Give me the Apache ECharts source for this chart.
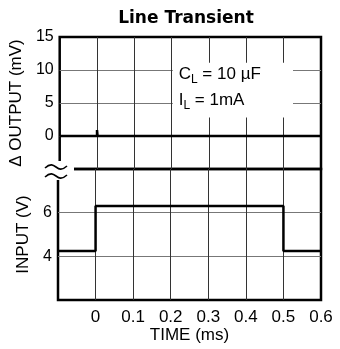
<!DOCTYPE html>
<html><head><meta charset="utf-8">
<script src="https://cdn.jsdelivr.net/npm/echarts@6/dist/echarts.min.js"></script>
<style>html,body{margin:0;padding:0;background:#fff}#c{width:340px;height:349px}</style>
</head><body><div id="c"></div>
<script>
// ---- data ----
const titleText = 'Line Transient';
const timeTicks = [0, 0.1, 0.2, 0.3, 0.4, 0.5, 0.6];
const outputTicks = [0, 5, 10, 15];
const inputTicks = [4, 6];
const outputTime = [-0.1, 0, 0, 0.0015, 0.0015, 0.6];
const outputMv = [0, 0, 0.9, 0.9, 0, 0];
const inputTime = [-0.1, 0, 0, 0.5, 0.5, 0.6];
const inputV = [4.25, 4.25, 6.3, 6.3, 4.25, 4.25];
const noteLines = ['{m|C}{s|L}{m| = 10 µF}', '{m|I}{s|L}{m| = 1mA}'];

const FONT = '"Liberation Sans", Arial, Helvetica, sans-serif';
const pick = (ticks) => (v) => {
  const k = ticks.findIndex(t => Math.abs(t - v) < 1e-9);
  return k < 0 ? '' : String(ticks[k]);
};
const zip = (xs, ys) => xs.map((x, i) => [x, ys[i]]);

const chart = echarts.init(document.getElementById('c'), null, {renderer: 'canvas'});
const splitX = {show: true, showMinLine: false, showMaxLine: false, lineStyle: {color: '#333', width: 1}};
const splitY = {show: true, showMinLine: false, showMaxLine: false, lineStyle: {color: '#777', width: 1}};
const border = {show: true, borderColor: '#000', borderWidth: 2.5, backgroundColor: 'transparent'};

chart.setOption({
  animation: false,
  backgroundColor: '#fff',
  title: {
    text: titleText, left: 181, top: 5, textAlign: 'center', textVerticalAlign: 'top',
    textStyle: {fontFamily: '"DejaVu Sans", sans-serif', fontWeight: 'bold', fontSize: 17, color: '#000'}
  },
  grid: [
    Object.assign({left: 58, right: 19, top: 37, height: 132}, border),
    Object.assign({left: 58, right: 19, top: 169, height: 131}, border)
  ],
  xAxis: [
    {type: 'value', gridIndex: 0, min: -0.1, max: 0.6, interval: 0.1,
     axisLine: {show: false}, axisTick: {show: false}, axisLabel: {show: false}, splitLine: splitX},
    {type: 'value', gridIndex: 1, min: -0.1, max: 0.6, interval: 0.1,
     axisLine: {show: false}, axisTick: {show: false},
     axisLabel: {formatter: pick(timeTicks), margin: 9, fontSize: 17, color: '#000', fontFamily: FONT, showMinLabel: true, showMaxLabel: true},
     splitLine: splitX,
     name: 'TIME (ms)', nameLocation: 'middle', nameGap: 26,
     nameTextStyle: {fontSize: 17, color: '#000', fontFamily: FONT}}
  ],
  yAxis: [
    {type: 'value', gridIndex: 0, min: -5, max: 15, interval: 5,
     axisLine: {show: false}, axisTick: {show: false},
     axisLabel: {formatter: pick(outputTicks), margin: 6, fontSize: 16, color: '#000', fontFamily: FONT, showMaxLabel: true},
     splitLine: splitY,
     name: 'Δ OUTPUT (mV)', nameLocation: 'middle', nameGap: 25,
     nameTextStyle: {fontSize: 17, color: '#000', fontFamily: FONT}},
    {type: 'value', gridIndex: 1, min: 2, max: 8, interval: 2,
     axisLine: {show: false}, axisTick: {show: false},
     axisLabel: {formatter: pick(inputTicks), margin: 6, fontSize: 16, color: '#000', fontFamily: FONT},
     splitLine: splitY,
     name: 'INPUT (V)', nameLocation: 'middle', nameGap: 25,
     nameTextStyle: {fontSize: 17, color: '#000', fontFamily: FONT}}
  ],
  series: [
    {type: 'line', xAxisIndex: 0, yAxisIndex: 0, data: zip(outputTime, outputMv),
     showSymbol: false, lineStyle: {color: '#000', width: 2.5}, silent: true,
     markArea: {silent: true, itemStyle: {color: '#fff'},
       data: [[{coord: [0.203, 11.1]}, {coord: [0.525, 2.8]}]]}},
    {type: 'line', xAxisIndex: 1, yAxisIndex: 1, data: zip(inputTime, inputV),
     showSymbol: false, lineStyle: {color: '#000', width: 2.5}, silent: true}
  ]
});

const px = (g, v) => chart.convertToPixel({gridIndex: g}, v);
const [x02, y10] = px(0, [0.2, 10]);
const [, y5] = px(0, [0.2, 5]);
const [xL, yB] = px(1, [-0.1, 8]);
const rich = {
  m: {fontSize: 17, fontFamily: FONT, color: '#000'},
  s: {fontSize: 12, fontFamily: FONT, color: '#000', padding: [12, 0, 0, 0]}
};
const tilde = (cy) => ({
  type: 'bezierCurve', z: 101,
  shape: {x1: xL - 13, y1: cy + 1, cpx1: xL - 2, cpy1: cy - 9, cpx2: xL - 2, cpy2: cy + 9, x2: xL + 9, y2: cy - 1},
  style: {stroke: '#000', lineWidth: 1.6, fill: null}
});
chart.setOption({
  graphic: [
    {type: 'text', z: 100, x: x02 + 7, y: y10 + 4,
     style: {text: noteLines[0], rich: rich, align: 'left', verticalAlign: 'middle'}},
    {type: 'text', z: 100, x: x02 + 7, y: y5 - 3,
     style: {text: noteLines[1], rich: rich, align: 'left', verticalAlign: 'middle'}},
    {type: 'rect', z: 100, shape: {x: xL - 14, y: yB - 8, width: 30, height: 19}, style: {fill: '#fff'}},
    tilde(yB - 2),
    tilde(yB + 7)
  ]
});
</script>
</body></html>
